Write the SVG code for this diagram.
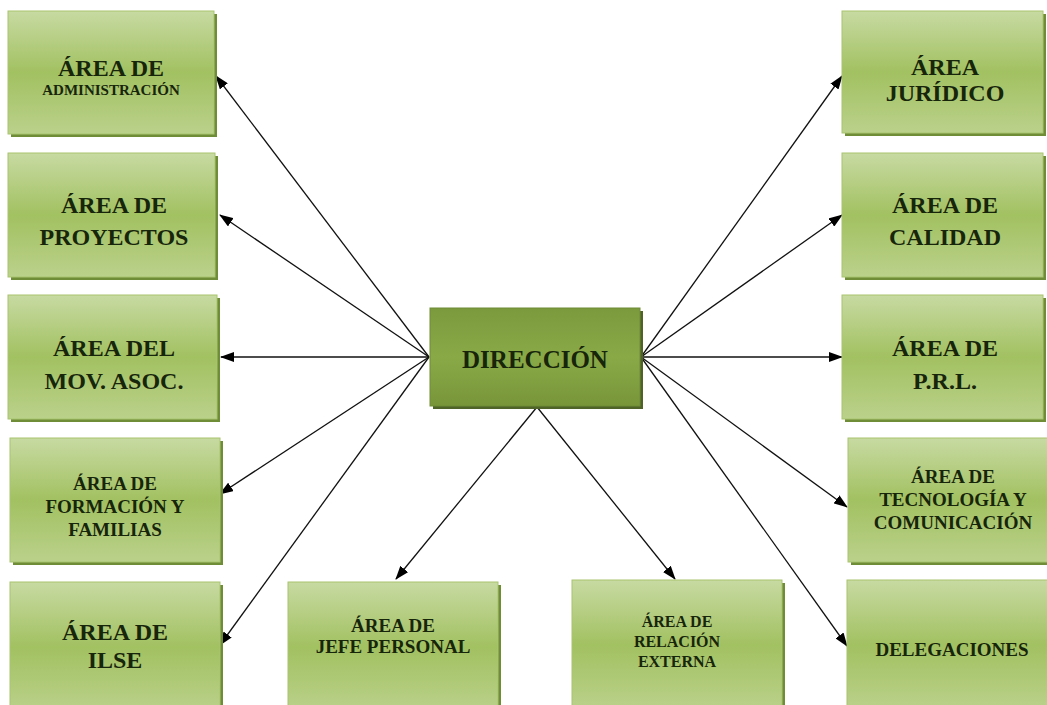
<svg xmlns="http://www.w3.org/2000/svg" width="1047" height="705" viewBox="0 0 1047 705">
<defs>
<linearGradient id="gBox" x1="0" y1="0" x2="0" y2="1">
<stop offset="0" stop-color="#c7daa2"/>
<stop offset="0.5" stop-color="#a2c161"/>
<stop offset="1" stop-color="#bad18b"/>
</linearGradient>
<linearGradient id="gDir" x1="0" y1="0" x2="0" y2="1">
<stop offset="0" stop-color="#7b9a3d"/>
<stop offset="0.5" stop-color="#89a947"/>
<stop offset="1" stop-color="#789639"/>
</linearGradient>
<marker id="ah" viewBox="0 0 14 10" refX="13" refY="5" markerWidth="14" markerHeight="10" markerUnits="userSpaceOnUse" orient="auto">
<path d="M0,0 L14,5 L0,10 z" fill="#000"/>
</marker>
</defs>
<style>
.sh{fill:#6f8c36}
.bx{fill:url(#gBox);stroke:#a9c46f;stroke-width:1}
.dsh{fill:#4f6228}
.dbx{fill:url(#gDir);stroke:#6f8c36;stroke-width:1}
text{font-family:"Liberation Serif","Times New Roman",serif;font-weight:bold;fill:#17250b;text-anchor:middle}
.t23{font-size:24px}
.t19{font-size:19px}
.t15{font-size:15px}
.t16{font-size:16px}
.t25{font-size:25px}
.cn line{stroke:#111;stroke-width:1.3;marker-end:url(#ah)}
</style>
<rect width="1047" height="705" fill="#ffffff"/>

<g id="connectors" class="cn">
<line x1="429" y1="357" x2="216" y2="76"/>
<line x1="429" y1="357" x2="220" y2="215"/>
<line x1="429" y1="357" x2="221" y2="357"/>
<line x1="429" y1="357" x2="220" y2="494"/>
<line x1="429" y1="357" x2="220" y2="645"/>
<line x1="641" y1="357" x2="842" y2="76"/>
<line x1="641" y1="357" x2="842" y2="215"/>
<line x1="641" y1="357" x2="842" y2="357"/>
<line x1="641" y1="357" x2="847" y2="507"/>
<line x1="641" y1="357" x2="847" y2="646"/>
<line x1="537" y1="407" x2="396" y2="579"/>
<line x1="537" y1="407" x2="675" y2="579"/>
</g>

<g id="n-administracion">
<rect class="sh" x="11" y="14" width="206" height="123"/>
<rect class="bx" x="8" y="11" width="206" height="123"/>
<text class="t23" x="111" y="76">ÁREA DE</text>
<text class="t15" x="111" y="95">ADMINISTRACIÓN</text>
</g>
<g id="n-proyectos">
<rect class="sh" x="11" y="156" width="207" height="124"/>
<rect class="bx" x="8" y="153" width="207" height="124"/>
<text class="t23" x="114" y="213">ÁREA DE</text>
<text class="t23" x="114" y="245">PROYECTOS</text>
</g>
<g id="n-movasoc">
<rect class="sh" x="11" y="298" width="209" height="124"/>
<rect class="bx" x="8" y="295" width="209" height="124"/>
<text class="t23" x="114" y="356">ÁREA DEL</text>
<text class="t23" x="114" y="389">MOV. ASOC.</text>
</g>
<g id="n-formacion">
<rect class="sh" x="13" y="441" width="210" height="124"/>
<rect class="bx" x="10" y="438" width="210" height="124"/>
<text class="t19" x="115" y="490">ÁREA DE</text>
<text class="t19" x="115" y="513">FORMACIÓN Y</text>
<text class="t19" x="115" y="536">FAMILIAS</text>
</g>
<g id="n-ilse">
<rect class="sh" x="13" y="585" width="210" height="130"/>
<rect class="bx" x="10" y="582" width="210" height="130"/>
<text class="t23" x="115" y="640">ÁREA DE</text>
<text class="t23" x="115" y="668">ILSE</text>
</g>

<g id="n-juridico">
<rect class="sh" x="845" y="14" width="201" height="122"/>
<rect class="bx" x="842" y="11" width="201" height="122"/>
<text class="t23" x="945" y="75">ÁREA</text>
<text class="t23" x="945" y="101">JURÍDICO</text>
</g>
<g id="n-calidad">
<rect class="sh" x="845" y="156" width="201" height="124"/>
<rect class="bx" x="842" y="153" width="201" height="124"/>
<text class="t23" x="945" y="213">ÁREA DE</text>
<text class="t23" x="945" y="245">CALIDAD</text>
</g>
<g id="n-prl">
<rect class="sh" x="845" y="298" width="201" height="124"/>
<rect class="bx" x="842" y="295" width="201" height="124"/>
<text class="t23" x="945" y="356">ÁREA DE</text>
<text class="t23" x="945" y="389">P.R.L.</text>
</g>
<g id="n-tecnologia">
<rect class="sh" x="851" y="441" width="205" height="124"/>
<rect class="bx" x="848" y="438" width="205" height="124"/>
<text class="t19" x="953" y="483">ÁREA DE</text>
<text class="t19" x="953" y="506">TECNOLOGÍA Y</text>
<text class="t19" x="953" y="529">COMUNICACIÓN</text>
</g>
<g id="n-delegaciones">
<rect class="sh" x="850" y="583" width="205" height="130"/>
<rect class="bx" x="847" y="580" width="205" height="130"/>
<text class="t19" x="952" y="656">DELEGACIONES</text>
</g>

<g id="n-jefe">
<rect class="sh" x="291" y="585" width="210" height="130"/>
<rect class="bx" x="288" y="582" width="210" height="130"/>
<text class="t19" x="393" y="632">ÁREA DE</text>
<text class="t19" x="393" y="653">JEFE PERSONAL</text>
</g>
<g id="n-relacion">
<rect class="sh" x="575" y="583" width="210" height="130"/>
<rect class="bx" x="572" y="580" width="210" height="130"/>
<text class="t16" x="677" y="627">ÁREA DE</text>
<text class="t16" x="677" y="647">RELACIÓN</text>
<text class="t16" x="677" y="667">EXTERNA</text>
</g>

<g id="n-direccion">
<rect class="dsh" x="433" y="311" width="210" height="98"/>
<rect class="dbx" x="430" y="308" width="210" height="98"/>
<text class="t25" x="535" y="368">DIRECCIÓN</text>
</g>
</svg>
